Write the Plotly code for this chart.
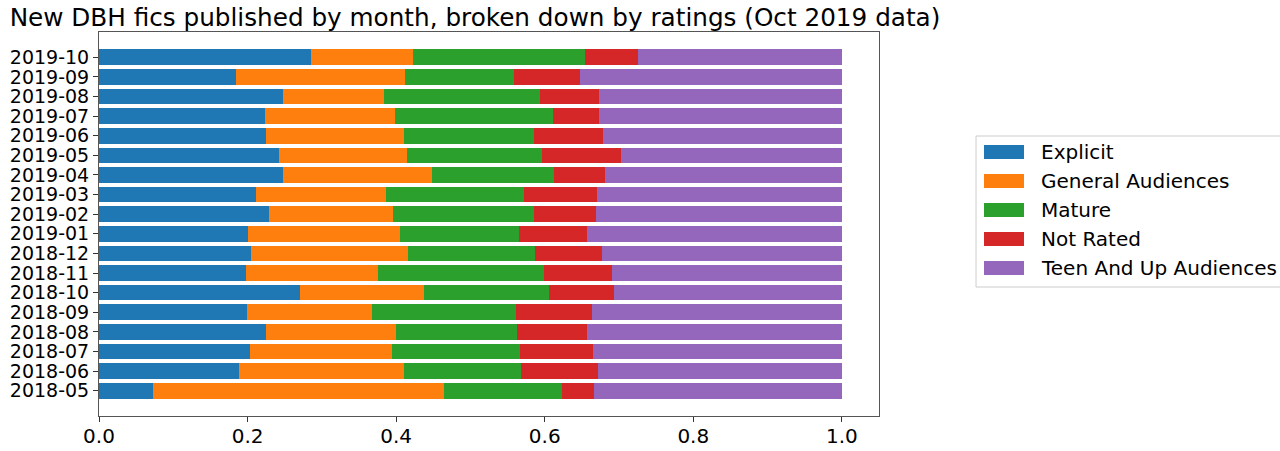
import plotly.graph_objects as go

months = ["2018-05", "2018-06", "2018-07", "2018-08", "2018-09", "2018-10",
          "2018-11", "2018-12", "2019-01", "2019-02", "2019-03", "2019-04",
          "2019-05", "2019-06", "2019-07", "2019-08", "2019-09", "2019-10"]

explicit = [0.073, 0.189, 0.203, 0.225, 0.199, 0.270, 0.198, 0.204, 0.200,
            0.229, 0.211, 0.248, 0.242, 0.225, 0.224, 0.248, 0.185, 0.286]
general = [0.391, 0.221, 0.192, 0.175, 0.169, 0.168, 0.178, 0.212, 0.205,
           0.167, 0.176, 0.200, 0.172, 0.185, 0.174, 0.135, 0.227, 0.137]
mature = [0.159, 0.158, 0.172, 0.163, 0.193, 0.168, 0.223, 0.171, 0.161,
          0.189, 0.185, 0.165, 0.183, 0.175, 0.213, 0.210, 0.146, 0.231]
not_rated = [0.044, 0.104, 0.098, 0.094, 0.102, 0.087, 0.091, 0.090, 0.091,
             0.084, 0.099, 0.068, 0.106, 0.094, 0.062, 0.080, 0.089, 0.072]
teen = [0.333, 0.328, 0.335, 0.343, 0.337, 0.307, 0.310, 0.323, 0.343,
        0.331, 0.329, 0.319, 0.297, 0.321, 0.327, 0.327, 0.353, 0.274]

series_names = ["Explicit", "General Audiences", "Mature", "Not Rated",
                "Teen And Up Audiences"]
series_values = [explicit, general, mature, not_rated, teen]
colors = ["#1f77b4", "#ff7f0e", "#2ca02c", "#d62728", "#9467bd"]

xtick_vals = [0.0, 0.2, 0.4, 0.6, 0.8, 1.0]
xtick_text = ["0.0", "0.2", "0.4", "0.6", "0.8", "1.0"]

FONT = "DejaVu Sans"
W, H = 1280, 451
L, R, T, B = 99, 879, 32, 416


def px_x(px):
    return (px - L) / (R - L)


def px_y(py):
    return (B - py) / (B - T)


fig = go.Figure()
for name, vals, col in zip(series_names, series_values, colors):
    fig.add_trace(go.Bar(
        y=months, x=vals, name=name, orientation="h",
        marker=dict(color=col, line=dict(width=0)),
        showlegend=False,
    ))

# manual legend (matplotlib-style)
fig.add_shape(type="rect", xref="paper", yref="paper",
              x0=px_x(976), x1=px_x(1290), y0=px_y(287), y1=px_y(136),
              line=dict(color="#cccccc", width=1), fillcolor="white", layer="below")
for i, (name, col) in enumerate(zip(series_names, colors)):
    yc = 152 + 29 * i
    fig.add_shape(type="rect", xref="paper", yref="paper",
                  x0=px_x(984), x1=px_x(1024), y0=px_y(yc + 7), y1=px_y(yc - 7),
                  line=dict(width=0), fillcolor=col)
    fig.add_annotation(xref="paper", yref="paper",
                       x=px_x(1039), y=px_y(yc),
                       xanchor="left", yanchor="middle", showarrow=False,
                       text=name, font=dict(family=FONT, size=20, color="black"))

fig.update_layout(
    width=W, height=H,
    margin=dict(l=L, r=W - R, t=T, b=H - B, pad=0, autoexpand=False),
    paper_bgcolor="white", plot_bgcolor="white",
    barmode="stack", bargap=0.2,
    font=dict(family=FONT, size=20, color="black"),
    title=dict(text="New DBH fics published by month, broken down by ratings (Oct 2019 data)",
               xref="container", yref="container", x=475 / W, xanchor="center",
               y=1 - 17 / H, yanchor="middle", automargin=False,
               font=dict(family=FONT, size=24.7, color="black")),
    xaxis=dict(range=[0, 1.05], tickvals=xtick_vals, ticktext=xtick_text,
               showgrid=False, zeroline=False, showline=True, mirror=True,
               linecolor="#555555", linewidth=1, ticks="outside", ticklen=5,
               tickcolor="#333333", tickfont=dict(size=20), automargin=False,
               ticklabelstandoff=-3),
    yaxis=dict(type="category", categoryorder="array", categoryarray=months,
               tickmode="array", tickvals=months, ticktext=months,
               range=[-1.29, 17 + 1.29], showgrid=False, zeroline=False,
               showline=True, mirror=True, linecolor="#555555", linewidth=1,
               ticks="outside", ticklen=5, tickcolor="#333333",
               tickfont=dict(size=19), automargin=False),
)

fig.write_html("out.html")
